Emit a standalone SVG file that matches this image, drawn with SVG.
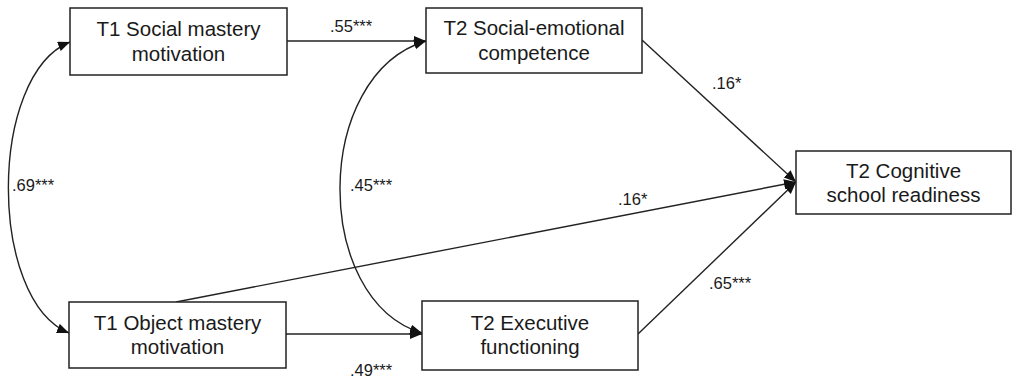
<svg xmlns="http://www.w3.org/2000/svg" width="1012" height="377" viewBox="0 0 1012 377">
<style>
.box{fill:#fff;stroke:#222;stroke-width:1.5}
.nt{font-family:"Liberation Sans",Arial,sans-serif;font-size:20.5px;fill:#1a1a1a;text-anchor:middle}
.lb{font-family:"Liberation Sans",Arial,sans-serif;font-size:16.5px;fill:#1a1a1a}
.cn{fill:none;stroke:#222;stroke-width:1.4}
</style>
<defs>
<marker id="ah" markerUnits="userSpaceOnUse" markerWidth="13" markerHeight="11" refX="12" refY="5" orient="auto-start-reverse">
<path d="M0,0 L12,5 L0,10 z" fill="#111"/>
</marker>
</defs>
<g id="connectors">
<path class="cn" d="M287,41 L426,41" marker-end="url(#ah)"/>
<path class="cn" d="M642,40 L796,182" marker-end="url(#ah)"/>
<path class="cn" d="M176,302 L796,182" marker-end="url(#ah)"/>
<path class="cn" d="M638,334 L796,182" marker-end="url(#ah)"/>
<path class="cn" d="M286,334 L422,334" marker-end="url(#ah)"/>
<path class="cn" d="M70,42 C-12,75 -12,300 69,333" marker-start="url(#ah)" marker-end="url(#ah)"/>
<path class="cn" d="M426,41 C312,75 312,300 422,333" marker-start="url(#ah)" marker-end="url(#ah)"/>
<text class="lb" x="330" y="32">.55***</text>
<text class="lb" x="712" y="89">.16*</text>
<text class="lb" x="12" y="191">.69***</text>
<text class="lb" x="350" y="191">.45***</text>
<text class="lb" x="618" y="205">.16*</text>
<text class="lb" x="709" y="289">.65***</text>
<text class="lb" x="350" y="376">.49***</text>
</g>
<g id="n1">
<rect class="box" x="70" y="8" width="217" height="67"/>
<text class="nt" x="178.5" y="36">T1 Social mastery</text>
<text class="nt" x="178.5" y="61">motivation</text>
</g>
<g id="n2">
<rect class="box" x="426" y="8" width="216" height="65"/>
<text class="nt" x="534" y="35">T2 Social-emotional</text>
<text class="nt" x="534" y="60">competence</text>
</g>
<g id="n3">
<rect class="box" x="796" y="151" width="215" height="63"/>
<text class="nt" x="903.5" y="178">T2 Cognitive</text>
<text class="nt" x="903.5" y="202">school readiness</text>
</g>
<g id="n4">
<rect class="box" x="69" y="302" width="217" height="66"/>
<text class="nt" x="177.5" y="330">T1 Object mastery</text>
<text class="nt" x="177.5" y="354">motivation</text>
</g>
<g id="n5">
<rect class="box" x="422" y="301" width="216" height="69"/>
<text class="nt" x="530" y="330">T2 Executive</text>
<text class="nt" x="530" y="354">functioning</text>
</g>
</svg>
